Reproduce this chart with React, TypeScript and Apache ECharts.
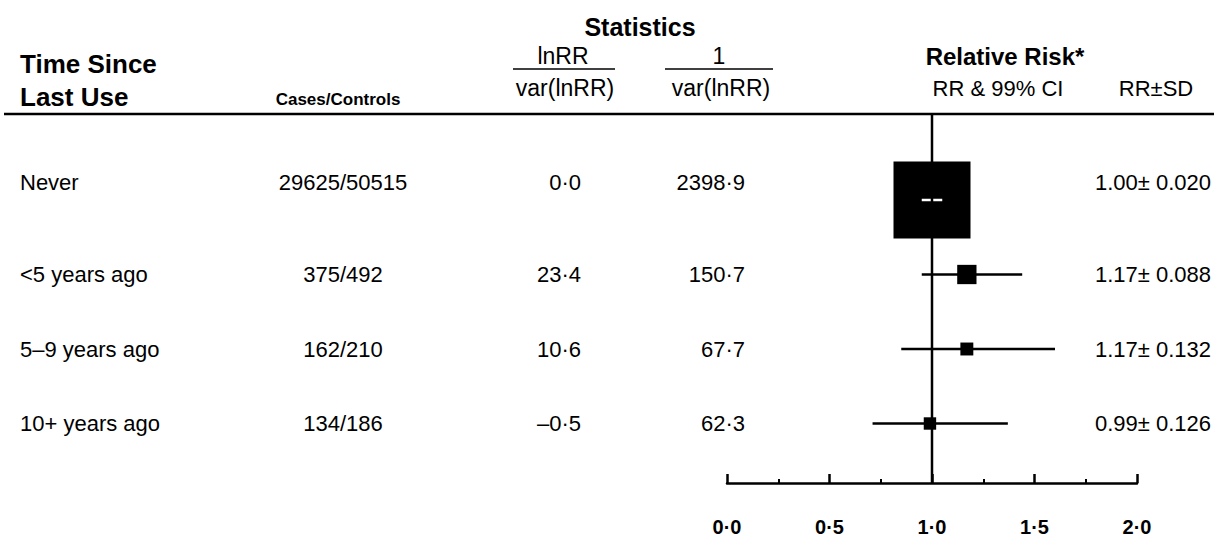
import React, { useEffect, useRef } from "react";
import * as echarts from "echarts";

// ---- data ----
const groups = ["Never", "<5 years ago", "5–9 years ago", "10+ years ago"];
const casesControls = ["29625/50515", "375/492", "162/210", "134/186"];
const lnRRoverVar = [0.0, 23.4, 10.6, -0.5];
const invVar = [2398.9, 150.7, 67.7, 62.3];
const rr = [1.0, 1.17, 1.17, 0.99];
const ciLow = [0.95, 0.95, 0.85, 0.71];
const ciHigh = [1.05, 1.44, 1.6, 1.37];
const rrSD = ["0.020", "0.088", "0.132", "0.126"];
const xTicks = [0, 0.5, 1, 1.5, 2];

// ---- layout ----
const W = 1214;
const H = 537;
const FONT = '"Liberation Sans", Arial, Helvetica, sans-serif';
const headerLineY = 114;
const axisY = 483;
const firstRowY = 200;
const rowGap = 74.5;
const gridLeft = 727;
const gridRight = 1137;
const maxBox = 77;
const textOffset = [-18, 0, 0, 0];

const fmtDot = (v: number) => (v < 0 ? "–" : "") + Math.abs(v).toFixed(1).replace(".", "·");

export default function App() {
  const ref = useRef<HTMLDivElement>(null);
  useEffect(() => {
    if (!ref.current) return;
    const chart = echarts.init(ref.current, undefined, { renderer: "svg" });
    const yMin = (headerLineY - firstRowY) / rowGap;
    const yMax = (axisY - firstRowY) / rowGap;
    const wMax = Math.max(...invVar);
    const forestData = groups.map((_, i) => [
      i,
      rr[i],
      ciLow[i],
      ciHigh[i],
      maxBox * Math.sqrt(invVar[i] / wMax),
    ]);

    const rowY = (i: number) => firstRowY + rowGap * i + textOffset[i];
    const txt = (
      text: string,
      x: number,
      y: number,
      size: number,
      align: string,
      bold = false
    ) => ({
      type: "text",
      x,
      y,
      silent: true,
      style: {
        text,
        fontSize: size,
        fontWeight: bold ? "bold" : "normal",
        fontFamily: FONT,
        align,
        verticalAlign: "middle",
        fill: "#000",
      },
    });
    const hline = (x1: number, x2: number, y: number, w: number) => ({
      type: "line",
      silent: true,
      shape: { x1, y1: y, x2, y2: y },
      style: { stroke: "#000", lineWidth: w },
    });

    const graphics: any[] = [
      txt("Statistics", 640, 27, 25, "center", true),
      txt("Time Since", 20, 64, 26, "left", true),
      txt("Last Use", 20, 97, 26, "left", true),
      txt("Cases/Controls", 338, 99, 17, "center", true),
      txt("lnRR", 563, 56, 23, "center"),
      hline(513, 615, 69, 1.5),
      txt("var(lnRR)", 565, 88, 23, "center"),
      txt("1", 719, 56, 23, "center"),
      hline(665, 773, 69, 1.5),
      txt("var(lnRR)", 721, 88, 23, "center"),
      txt("Relative Risk*", 1005, 56, 24, "center", true),
      txt("RR & 99% CI", 998, 88, 22, "center"),
      txt("RR±SD", 1156, 88, 22, "center"),
      hline(4, W, headerLineY, 2.5),
    ];
    groups.forEach((g, i) => {
      const y = rowY(i);
      graphics.push(txt(g, 20, y, 22, "left"));
      graphics.push(txt(casesControls[i], 343, y, 22, "center"));
      graphics.push(txt(fmtDot(lnRRoverVar[i]), 581, y, 22, "right"));
      graphics.push(txt(fmtDot(invVar[i]), 745, y, 22, "right"));
      graphics.push(txt(rr[i].toFixed(2) + "± " + rrSD[i], 1095, y, 22, "left"));
    });

    chart.setOption({
      animation: false,
      backgroundColor: "#fff",
      grid: {
        left: gridLeft,
        width: gridRight - gridLeft,
        top: headerLineY,
        height: axisY - headerLineY,
      },
      xAxis: {
        type: "value",
        min: xTicks[0],
        max: xTicks[xTicks.length - 1],
        interval: 0.5,
        axisLine: { show: true, onZero: false, lineStyle: { color: "#000", width: 2.5 } },
        axisTick: { show: true, inside: true, length: 9, lineStyle: { color: "#000", width: 2.5 } },
        minorTick: { show: true, splitNumber: 2, length: 4, lineStyle: { color: "#000", width: 2 } },
        splitLine: { show: false },
        minorSplitLine: { show: false },
        axisLabel: {
          margin: 34,
          fontSize: 20,
          fontWeight: "bold",
          fontFamily: FONT,
          color: "#000",
          formatter: (v: number) => v.toFixed(1).replace(".", "·"),
        },
      },
      yAxis: {
        type: "value",
        inverse: true,
        min: yMin,
        max: yMax,
        show: false,
      },
      series: [
        {
          type: "custom",
          data: forestData,
          encode: { x: [1, 2, 3], y: 0 },
          z: 2,
          renderItem: (params: any, api: any) => {
            const i = api.value(0);
            const c = api.coord([api.value(1), i]);
            const lo = api.coord([api.value(2), i]);
            const hi = api.coord([api.value(3), i]);
            const s = api.value(4);
            const inside = hi[0] - lo[0] < s;
            const box = {
              type: "rect",
              shape: { x: c[0] - s / 2, y: c[1] - s / 2, width: s, height: s },
              style: { fill: "#000" },
            };
            const line = {
              type: "line",
              shape: { x1: lo[0], y1: lo[1], x2: hi[0], y2: hi[1] },
              style: { stroke: inside ? "#fff" : "#000", lineWidth: 2.5 },
            };
            return { type: "group", children: inside ? [box, line] : [line, box] };
          },
        },
        {
          type: "line",
          z: 5,
          symbol: "none",
          silent: true,
          lineStyle: { color: "#000", width: 2.5 },
          data: [
            [1, yMin],
            [1, yMax],
          ],
        },
      ],
      graphic: graphics,
    });
    return () => chart.dispose();
  }, []);
  return (
    <div
      ref={ref}
      style={{ position: "fixed", left: 0, top: 0, width: W, height: H, background: "#fff" }}
    />
  );
}
